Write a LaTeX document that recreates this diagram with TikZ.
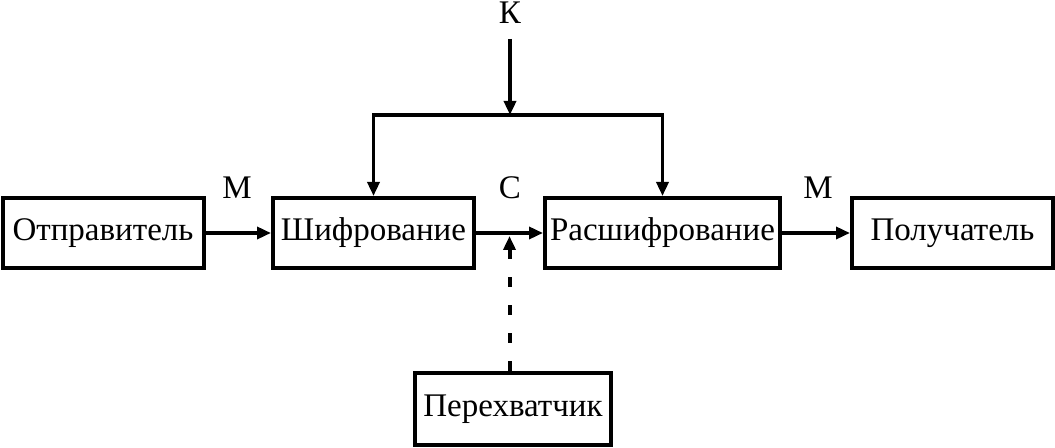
\documentclass[tikz,border=0pt]{standalone}
\usepackage{fontspec}
\setmainfont{Liberation Serif}
\usetikzlibrary{arrows.meta}

\tikzset{
	blk/.style={draw, line width=2pt, minimum height=35pt, inner xsep=2pt, font=\fontsize{16.5}{20}\selectfont},
	lbl/.style={font=\fontsize{16.5}{20}\selectfont},
	arr/.style={line width=1.7pt, -{Triangle[length=7pt,width=6pt]}}
}

\begin{document}
\begin{tikzpicture}[x=0.5pt, y=-0.5pt]
		\useasboundingbox (0,0) rectangle (1055,448);
		\node[blk, minimum width=100.5pt] (sender) at (103,233) {Отправитель};
		\node[blk, minimum width=100.5pt] (encrypt) at (373.5,233) {Шифрование};
		\node[blk, minimum width=117.5pt] (decrypt) at (662.5,233) {Расшифрование};
		\node[blk, minimum width=100.5pt] (receiver) at (952.5,233) {Получатель};
		\node[blk, minimum width=98pt, minimum height=36pt] (interceptor) at (513,409) {Перехватчик};
		\node[lbl] (key) at (510,13) {К};
		\node[lbl] (msg1) at (237,188) {М};
		\node[lbl] (cph) at (510,188) {С};
		\node[lbl] (msg2) at (818,188) {М};
		\coordinate (kj) at (510,115);
		\draw[arr] (sender) -- (encrypt);
		\draw[arr] (encrypt) -- coordinate[pos=0.5] (mid) (decrypt);
		\draw[arr] (decrypt) -- (receiver);
		\draw[arr] (key.south) ++(0,8) -- (kj);
		\draw[arr, line join=miter] (kj) -| (encrypt.north);
		\draw[arr, line join=miter] (kj) -| (decrypt.north);
		\draw[arr, line width=2pt, dash pattern=on 5pt off 9pt] (interceptor.north -| mid) -- ([yshift=-1.5pt]mid);
\end{tikzpicture}
\end{document}
